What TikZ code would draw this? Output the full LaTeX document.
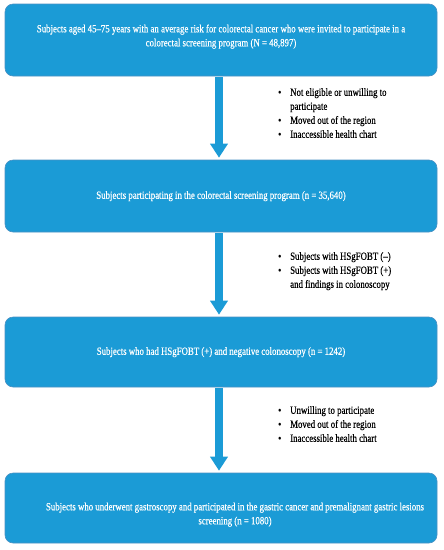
\documentclass[tikz,border=0pt]{standalone}
\usepackage{fontspec}
\setmainfont{Liberation Serif}[FakeStretch=0.8,FakeBold=0.4]
\usetikzlibrary{arrows.meta}
\definecolor{boxblue}{RGB}{27,155,214}
\definecolor{boxedge}{RGB}{75,145,195}
\tikzset{
  flowbox/.style={rectangle, rounded corners=8pt, fill=boxblue, draw=boxedge, line width=0.6pt,
    minimum width=432pt, inner sep=0pt, text=white, font=\fontsize{11}{14}\selectfont},
  flowarrow/.style={draw=boxblue, line width=8pt, -{Triangle[width=17pt,length=14pt]},
    shorten <=1pt, shorten >=2pt},
  exlist/.style={anchor=west, inner sep=0pt, font=\fontsize{11}{14}\selectfont}
}
\newcommand{\boxtext}[3]{\hspace*{#1}\raisebox{#2}[\height][\depth]{\begin{tabular}{@{}c@{}}#3\end{tabular}}}
\begin{document}
\begin{tikzpicture}[x=1pt,y=-1pt]
	\useasboundingbox (0,0) rectangle (444,550);
	% flow boxes
	\node[flowbox, minimum height=72pt] (invited) at (221,40) {\boxtext{0pt}{3.5pt}{Subjects aged 45–75 years with an average risk for colorectal cancer who were invited to participate in a\\colorectal screening program (N = 48,897)}};
	\node[flowbox, minimum height=72pt] (participants) at (221,196) {\boxtext{0pt}{0pt}{Subjects participating in the colorectal screening program (n = 35,640)}};
	\node[flowbox, minimum height=70pt] (negative) at (221,352) {\boxtext{0pt}{0pt}{Subjects who had HSgFOBT (+) and negative colonoscopy (n = 1242)}};
	\node[flowbox, minimum height=70pt] (gastro) at (221,508) {\boxtext{28pt}{-6.5pt}{Subjects who underwent gastroscopy and participated in the gastric cancer and premalignant gastric lesions\\screening (n = 1080)}};
	% arrows
	\draw[flowarrow] ([xshift=-2pt]invited.south) -- ([xshift=-2pt]participants.north);
	\draw[flowarrow] ([xshift=-2pt]participants.south) -- ([xshift=-2pt]negative.north);
	\draw[flowarrow] ([xshift=-2pt]negative.south) -- ([xshift=-2pt]gastro.north);
	% exclusions
	\node[exlist] (excl1) at (278,114) {\begin{tabular}{@{}p{12pt}@{}l@{}}
		\textbullet & Not eligible or unwilling to\\
		 & participate\\
		\textbullet & Moved out of the region\\
		\textbullet & Inaccessible health chart
	\end{tabular}};
	\node[exlist] (excl2) at (278,271) {\begin{tabular}{@{}p{12pt}@{}l@{}}
		\textbullet & Subjects with HSgFOBT (–)\\
		\textbullet & Subjects with HSgFOBT (+)\\
		 & and findings in colonoscopy
	\end{tabular}};
	\node[exlist] (excl3) at (278,425) {\begin{tabular}{@{}p{12pt}@{}l@{}}
		\textbullet & Unwilling to participate\\
		\textbullet & Moved out of the region\\
		\textbullet & Inaccessible health chart
	\end{tabular}};
\end{tikzpicture}
\end{document}
